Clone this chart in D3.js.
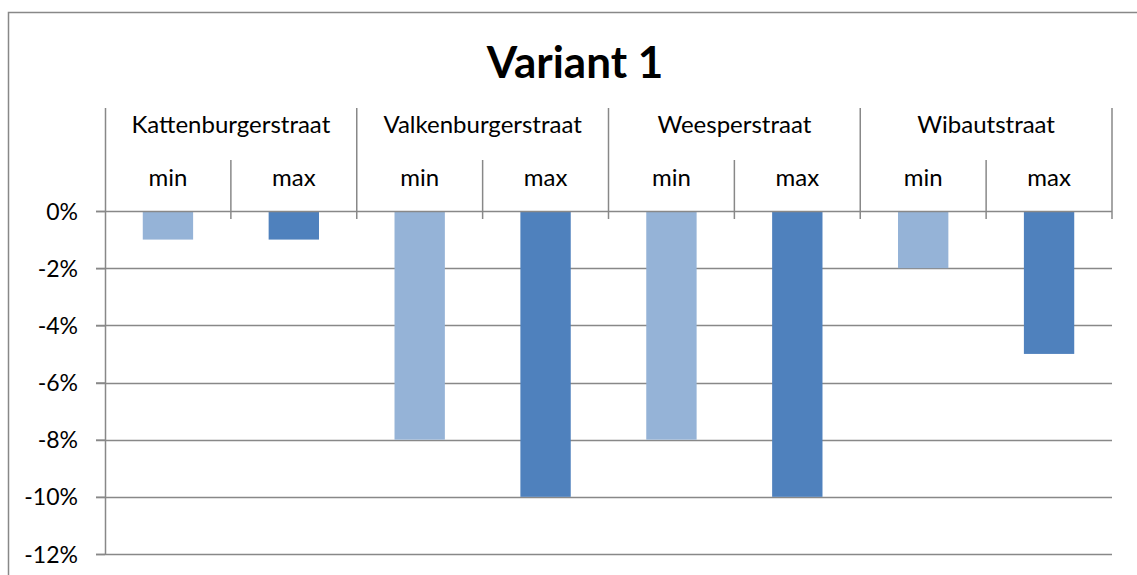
<!DOCTYPE html>
<html>
<head>
<meta charset="utf-8">
<script src="https://cdnjs.cloudflare.com/ajax/libs/d3/7.8.5/d3.min.js"></script>
<style>
    body { margin: 0; background: #fff; }
    svg { display: block; }
    text { font-family: Lato, "Open Sans", sans-serif; fill: #000; }
</style>
</head>
<body>
<div id="chart"></div>
<script>
// data
var streets = ["Kattenburgerstraat", "Valkenburgerstraat", "Weesperstraat", "Wibautstraat"];
var levels = ["min", "max"];
var minValues = [-1, -8, -8, -2];
var maxValues = [-1, -10, -10, -5];
var yTicks = [0, -2, -4, -6, -8, -10, -12];
var chartTitle = "Variant 1";

var o = {
    v: 1137,
    h: 575,
    margin: {left: 105, top: 211, right: 25, bottom: 21}
};
o.width = o.v - o.margin.left - o.margin.right;
o.height = o.h - o.margin.top - o.margin.bottom;

var colors = {min: "#95b3d7", max: "#4f81bd"};
var lineColor = "#888888";

var data = [];
streets.forEach(function (s, i) {
    data.push({street: s, level: levels[0], key: s + "|min", value: minValues[i]});
    data.push({street: s, level: levels[1], key: s + "|max", value: maxValues[i]});
});

var svg = d3.select("#chart").append("svg")
    .attr("width", o.v)
    .attr("height", o.h);

// outer chart border
svg.append("rect")
    .attr("x", 8.5)
    .attr("y", 12.5)
    .attr("width", 1140)
    .attr("height", 600)
    .style("fill", "none")
    .style("stroke", lineColor)
    .style("stroke-width", 1.5);

svg.append("text")
    .attr("x", 575)
    .attr("y", 78)
    .attr("text-anchor", "middle")
    .style("font-size", "44px")
    .style("font-weight", "bold")
    .text(chartTitle);

var chart = svg.append("g")
    .attr("transform", "translate(" + o.margin.left + "," + o.margin.top + ")");

var x = d3.scaleBand()
    .domain(data.map(function (d) { return d.key; }))
    .range([0, o.width])
    .paddingInner(0.6)
    .paddingOuter(0.3);

var xStreet = d3.scaleBand()
    .domain(streets)
    .range([0, o.width]);

var y = d3.scaleLinear()
    .domain([0, -12])
    .range([0, o.height]);

// gridlines
chart.append("g")
    .selectAll("line.grid")
    .data(yTicks.filter(function (t) { return t !== 0; }))
    .enter()
    .append("line")
    .classed("grid", true)
    .attr("x1", -9)
    .attr("x2", o.width)
    .attr("y1", function (d) { return Math.round(y(d)) + 0.5; })
    .attr("y2", function (d) { return Math.round(y(d)) + 0.5; })
    .style("stroke", lineColor)
    .style("stroke-width", 1.5);

// bars
chart.append("g")
    .selectAll("rect.bar")
    .data(data)
    .enter()
    .append("rect")
    .classed("bar", true)
    .attr("x", function (d) { return x(d.key); })
    .attr("width", x.bandwidth())
    .attr("y", y(0))
    .attr("height", function (d) { return y(d.value) - y(0); })
    .style("fill", function (d) { return colors[d.level]; });

// y axis
var yAxis = d3.axisLeft(y)
    .tickValues(yTicks)
    .tickSize(9)
    .tickPadding(18)
    .tickFormat(function (d) { return d + "%"; });

var yAxisG = chart.append("g").call(yAxis);
yAxisG.select(".domain").remove();
yAxisG.selectAll("line")
    .style("stroke", lineColor)
    .style("stroke-width", 1.5);
yAxisG.selectAll("text")
    .style("font-size", "23px")
    .attr("dy", "0.35em")
    .style("fill", "#000");

chart.append("line")
    .attr("x1", 0.5)
    .attr("x2", 0.5)
    .attr("y1", -103)
    .attr("y2", o.height)
    .style("stroke", lineColor)
    .style("stroke-width", 1.5);

// category axis (top, at 0%)
var catAxis = chart.append("g").classed("cat-axis", true);

catAxis.append("line")
    .attr("x1", -9)
    .attr("x2", o.width)
    .attr("y1", y(0) + 0.5)
    .attr("y2", y(0) + 0.5)
    .style("stroke", lineColor)
    .style("stroke-width", 1.5);

// minor ticks between min and max
catAxis.selectAll("line.minor")
    .data(streets)
    .enter()
    .append("line")
    .classed("minor", true)
    .attr("x1", function (d) { return xStreet(d) + xStreet.bandwidth() / 2; })
    .attr("x2", function (d) { return xStreet(d) + xStreet.bandwidth() / 2; })
    .attr("y1", -51)
    .attr("y2", 8)
    .style("stroke", lineColor)
    .style("stroke-width", 1.5);

// major ticks between streets
catAxis.selectAll("line.major")
    .data(streets.slice(1).concat(["end"]))
    .enter()
    .append("line")
    .classed("major", true)
    .attr("x1", function (d) { return d === "end" ? o.width : xStreet(d); })
    .attr("x2", function (d) { return d === "end" ? o.width : xStreet(d); })
    .attr("y1", -103)
    .attr("y2", 8)
    .style("stroke", lineColor)
    .style("stroke-width", 1.5);

catAxis.selectAll("text.level")
    .data(data)
    .enter()
    .append("text")
    .classed("level", true)
    .attr("x", function (d) { return x(d.key) + x.bandwidth() / 2; })
    .attr("y", -25)
    .attr("text-anchor", "middle")
    .style("font-size", "24px")
    .text(function (d) { return d.level; });

catAxis.selectAll("text.street")
    .data(streets)
    .enter()
    .append("text")
    .classed("street", true)
    .attr("x", function (d) { return xStreet(d) + xStreet.bandwidth() / 2; })
    .attr("y", -78)
    .attr("text-anchor", "middle")
    .style("font-size", "24px")
    .text(function (d) { return d; });
</script>
</body>
</html>
